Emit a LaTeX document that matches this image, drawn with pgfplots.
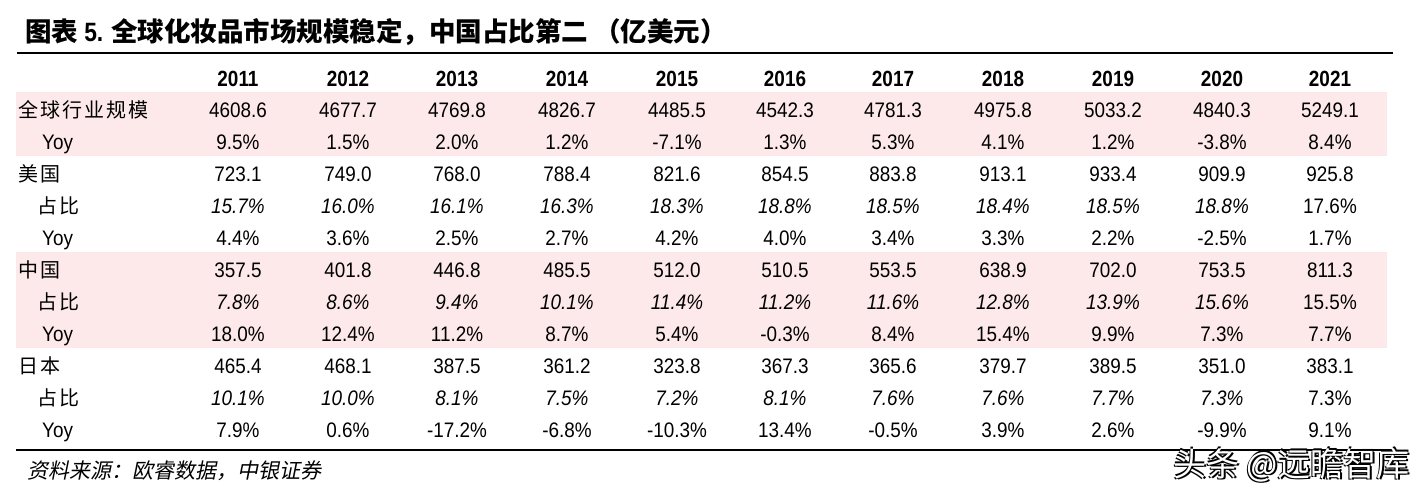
\documentclass[border=0pt]{standalone}
\usepackage{pgfplots}
\pgfplotsset{compat=1.18}
\usepackage{pgfplotstable}
\usepackage{fontspec}
\setmainfont{Liberation Sans}
\newfontfamily\numfont[FakeStretch=0.9]{Liberation Sans}
\newfontfamily\hdrfont[FakeStretch=0.86]{Liberation Sans}
\newfontfamily\cjk{Noto Sans CJK SC}
\newfontfamily\cjkls[LetterSpace=10]{Noto Sans CJK SC}
\newfontfamily\cjkit[FakeSlant=0.2]{Noto Sans CJK SC}
\definecolor{pinkbg}{RGB}{253,233,233}
\newcommand\hdrf{\hdrfont\bfseries\fontsize{22bp}{22bp}\selectfont}
\newcommand\numf{\numfont\fontsize{21bp}{21bp}\selectfont}
\newcommand\numif{\numfont\itshape\fontsize{21bp}{21bp}\selectfont}
\newcommand\cjkf{\cjkls\fontsize{20bp}{20bp}\selectfont}
\newcommand\wmf{\cjk\fontsize{33bp}{33bp}\selectfont}

\pgfplotstableread{
xpos year gl glyoy us usshare usyoy cn cnshare cnyoy jp jpshare jpyoy
238  2011 4608.6 9.5  723.1 15.7 4.4  357.5 7.8  18.0 465.4 10.1 7.9
348  2012 4677.7 1.5  749.0 16.0 3.6  401.8 8.6  12.4 468.1 10.0 0.6
457  2013 4769.8 2.0  768.0 16.1 2.5  446.8 9.4  11.2 387.5 8.1  -17.2
567  2014 4826.7 1.2  788.4 16.3 2.7  485.5 10.1 8.7  361.2 7.5  -6.8
677  2015 4485.5 -7.1 821.6 18.3 4.2  512.0 11.4 5.4  323.8 7.2  -10.3
785  2016 4542.3 1.3  854.5 18.8 4.0  510.5 11.2 -0.3 367.3 8.1  13.4
893  2017 4781.3 5.3  883.8 18.5 3.4  553.5 11.6 8.4  365.6 7.6  -0.5
1003 2018 4975.8 4.1  913.1 18.4 3.3  638.9 12.8 15.4 379.7 7.6  3.9
1113 2019 5033.2 1.2  933.4 18.5 2.2  702.0 13.9 9.9  389.5 7.7  2.6
1222 2020 4840.3 -3.8 909.9 18.8 -2.5 753.5 15.6 7.3  351.0 7.3  -9.9
1330 2021 5249.1 8.4  925.8 17.6 1.7  811.3 15.5 7.7  383.1 7.3  9.1
}\data

\pgfplotsset{
  cell/.style={draw=none, mark=none, point meta=explicit symbolic,
    nodes near coords={\pgfplotspointmeta},
    nodes near coords align={anchor=base},
    every node near coord/.append style={anchor=base, inner sep=0pt, outer sep=0pt, text=black, font=#1}},
  pct/.style={nodes near coords={\pgfplotspointmeta\%}},
}

\begin{document}
\begin{tikzpicture}
\begin{axis}[width=1427bp, height=497bp, scale only axis,
  xmin=0, xmax=1427, ymin=0, ymax=497, y dir=reverse,
  hide axis, clip=false]
\path (axis cs:0,0) rectangle (axis cs:1427,497);
% pink bands
\addplot[fill=pinkbg, draw=none] coordinates {(16,92) (1387,92) (1387,156) (16,156)};
\addplot[fill=pinkbg, draw=none] coordinates {(16,252) (1387,252) (1387,348) (16,348)};
% rules
\addplot[black, line width=2.2bp] coordinates {(17,53) (1393,53)};
\addplot[black, line width=2.4bp] coordinates {(16,450) (1393,450)};
% title
\node[anchor=base west, inner sep=0pt] at (axis cs:25,42)
  {\cjk\bfseries\fontsize{26.5bp}{26.5bp}\selectfont 图表 {\hdrfont\bfseries 5.} 全球化妆品市场规模稳定，中国占比第二 （亿美元）};
% header
\addplot[cell=\hdrf] table[x=xpos, y expr=86, meta=year] {\data};
% row labels
\node[anchor=base west, inner sep=0pt, font=\cjkf] at (axis cs:18,117.5) {全球行业规模};
\node[anchor=base west, inner sep=0pt, font=\numf] at (axis cs:42,149.5) {Yoy};
\node[anchor=base west, inner sep=0pt, font=\cjkf] at (axis cs:18,181.5) {美国};
\node[anchor=base west, inner sep=0pt, font=\cjkf] at (axis cs:37,213.5) {占比};
\node[anchor=base west, inner sep=0pt, font=\numf] at (axis cs:42,245.5) {Yoy};
\node[anchor=base west, inner sep=0pt, font=\cjkf] at (axis cs:18,277.5) {中国};
\node[anchor=base west, inner sep=0pt, font=\cjkf] at (axis cs:37,309.5) {占比};
\node[anchor=base west, inner sep=0pt, font=\numf] at (axis cs:42,341.5) {Yoy};
\node[anchor=base west, inner sep=0pt, font=\cjkf] at (axis cs:18,373.5) {日本};
\node[anchor=base west, inner sep=0pt, font=\cjkf] at (axis cs:37,405.5) {占比};
\node[anchor=base west, inner sep=0pt, font=\numf] at (axis cs:42,437.5) {Yoy};
% values
\addplot[cell=\numf] table[x=xpos, y expr=117.5, meta=gl] {\data};
\addplot[cell=\numf, pct] table[x=xpos, y expr=149.5, meta=glyoy] {\data};
\addplot[cell=\numf] table[x=xpos, y expr=181.5, meta=us] {\data};
\addplot[cell=\numif, pct, skip coords between index={10}{11}] table[x=xpos, y expr=213.5, meta=usshare] {\data};
\addplot[cell=\numf, pct, skip coords between index={0}{10}] table[x=xpos, y expr=213.5, meta=usshare] {\data};
\addplot[cell=\numf, pct] table[x=xpos, y expr=245.5, meta=usyoy] {\data};
\addplot[cell=\numf] table[x=xpos, y expr=277.5, meta=cn] {\data};
\addplot[cell=\numif, pct, skip coords between index={10}{11}] table[x=xpos, y expr=309.5, meta=cnshare] {\data};
\addplot[cell=\numf, pct, skip coords between index={0}{10}] table[x=xpos, y expr=309.5, meta=cnshare] {\data};
\addplot[cell=\numf, pct] table[x=xpos, y expr=341.5, meta=cnyoy] {\data};
\addplot[cell=\numf] table[x=xpos, y expr=373.5, meta=jp] {\data};
\addplot[cell=\numif, pct, skip coords between index={10}{11}] table[x=xpos, y expr=405.5, meta=jpshare] {\data};
\addplot[cell=\numf, pct, skip coords between index={0}{10}] table[x=xpos, y expr=405.5, meta=jpshare] {\data};
\addplot[cell=\numf, pct] table[x=xpos, y expr=437.5, meta=jpyoy] {\data};
% footer
\node[anchor=base west, inner sep=0pt] at (axis cs:27,478)
  {\cjkit\fontsize{21bp}{21bp}\selectfont 资料来源：欧睿数据，中银证券};
% watermark: white letters with a dark edge
\node[anchor=base east, inner sep=0pt, text=black] at (axis cs:1411.8,477.8) {\wmf 头条 @远瞻智库};
\node[anchor=base east, inner sep=0pt, text=black] at (axis cs:1408.8,477.2) {\wmf 头条 @远瞻智库};
\node[anchor=base east, inner sep=0pt, text=black] at (axis cs:1410.6,474.6) {\wmf 头条 @远瞻智库};
\node[anchor=base east, inner sep=0pt, text=white] at (axis cs:1410,476) {\wmf 头条 @远瞻智库};
\end{axis}
\end{tikzpicture}
\end{document}
